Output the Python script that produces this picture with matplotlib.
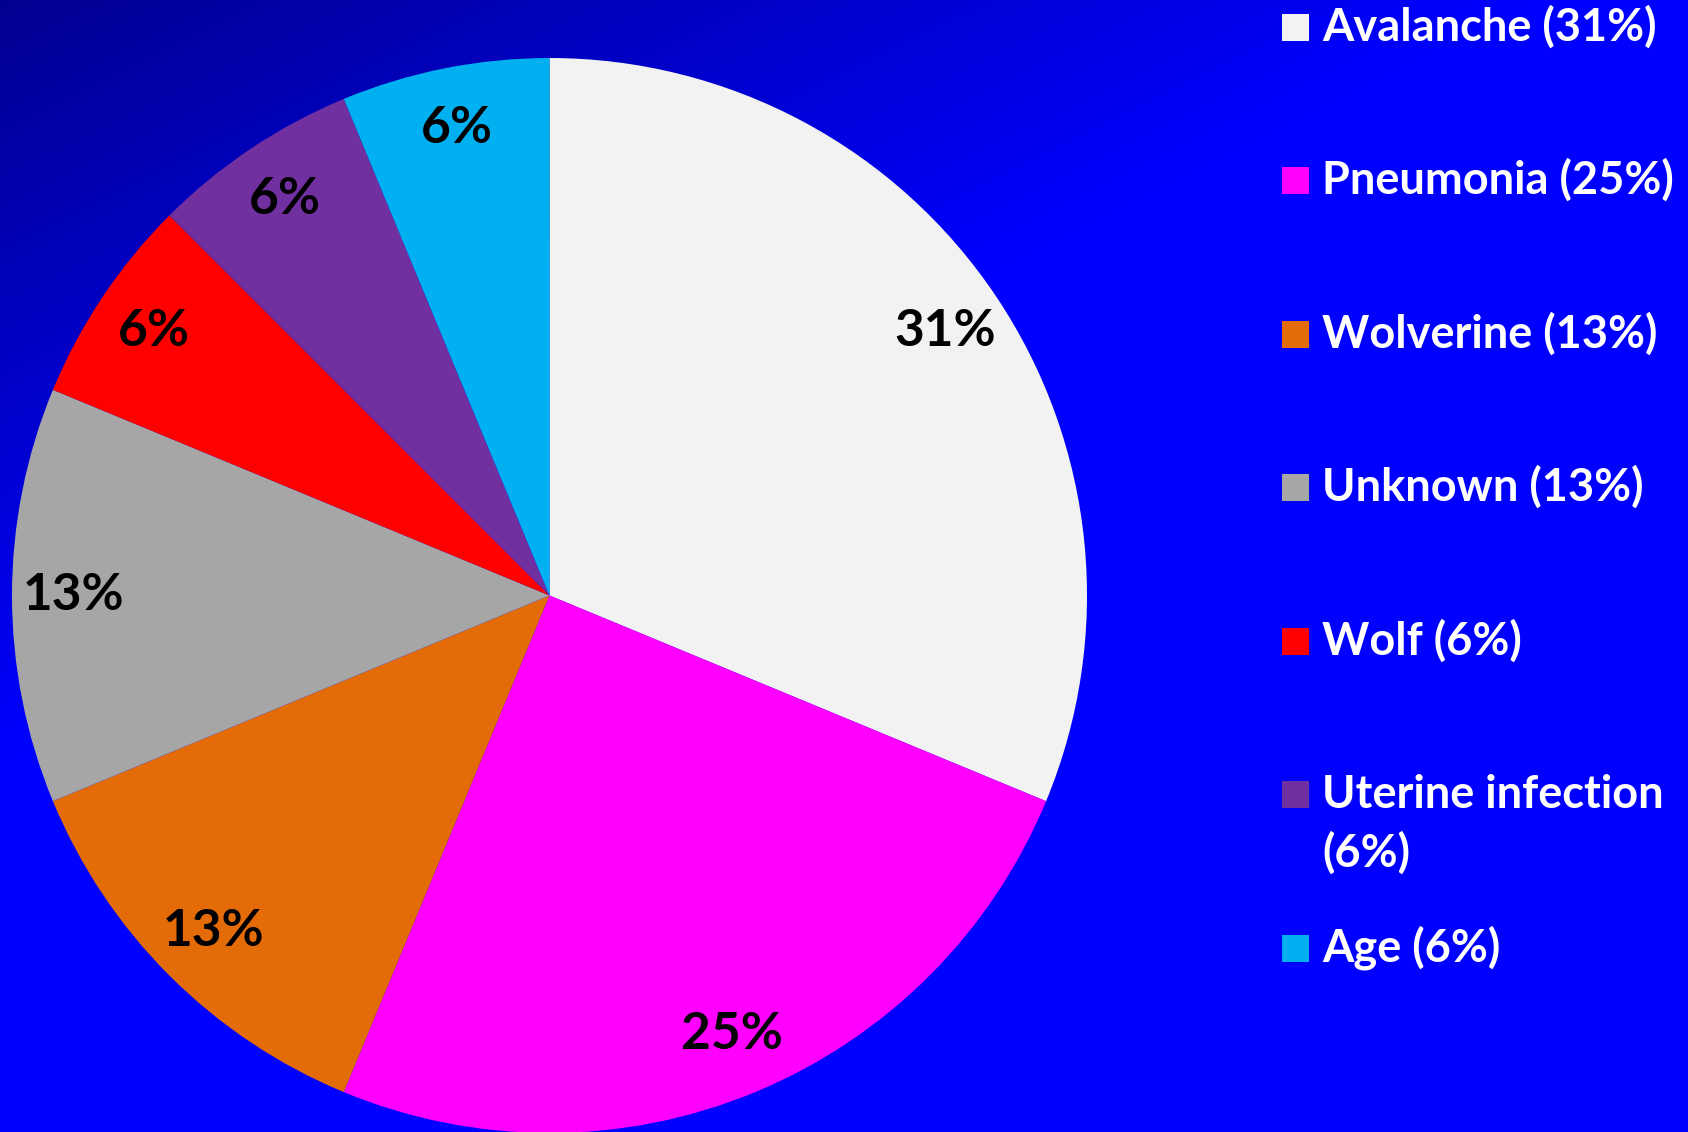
import numpy as np
import matplotlib
matplotlib.use("Agg")
import matplotlib.pyplot as plt
from matplotlib.patches import Rectangle

W, H = 1688, 1132
DPI = 100

# data: 16 deaths by cause
causes = ["Avalanche", "Pneumonia", "Wolverine", "Unknown", "Wolf",
          "Uterine infection", "Age"]
counts = [5, 4, 2, 2, 1, 1, 1]
colors = ["#F2F2F2", "#FF00FF", "#E36C09", "#A6A6A6", "#FF0000",
          "#7030A0", "#00B0F0"]
legend_labels = ["Avalanche (31%)", "Pneumonia (25%)", "Wolverine (13%)",
                 "Unknown (13%)", "Wolf (6%)", "Uterine infection\n(6%)",
                 "Age (6%)"]

plt.rcParams['font.family'] = ['Lato', 'DejaVu Sans']

fig = plt.figure(figsize=(W / DPI, H / DPI), dpi=DPI)

# background: blue gradient, darker towards the top-left corner
bg = fig.add_axes([0, 0, 1, 1])
yy, xx = np.mgrid[0:H, 0:W]
blue = np.clip(144 + 0.072 * xx + 0.145 * yy, 0, 255) / 255.0
img = np.zeros((H, W, 3))
img[..., 2] = blue
bg.imshow(img, extent=(0, W, H, 0), aspect='auto', interpolation='bilinear')
bg.set_axis_off()

# pie axes, placed in pixels
cx, cy, r = 549.5, 595.5, 537.5
ax = fig.add_axes([(cx - r) / W, 1 - (cy + r) / H, 2 * r / W, 2 * r / H])
ax.patch.set_alpha(0)


def pct_fmt(p):
    return f"{int(p + 0.5)}%"


wedges, _, autotexts = ax.pie(counts, colors=colors, startangle=90,
                              counterclock=False, autopct=pct_fmt,
                              pctdistance=0.885, radius=1,
                              wedgeprops={'linewidth': 0},
                              textprops={'fontsize': 37, 'fontweight': 'bold',
                                         'color': 'black'})
ax.set_xlim(-1, 1)
ax.set_ylim(-1, 1)
ax.set_aspect('equal')
ax.set_axis_off()

# legend drawn by hand so that the two-line entry keeps the row spacing
box = 27
x_box = 1282
x_txt = 1322
y0, step = 27, 153.5
line_gap = 59
for i, (lab, col) in enumerate(zip(legend_labels, colors)):
    yc = y0 + i * step
    fig.patches.append(Rectangle(((x_box) / W, 1 - (yc + box / 2) / H),
                                 box / W, box / H, facecolor=col,
                                 edgecolor='none', transform=fig.transFigure))
    for j, line in enumerate(lab.split("\n")):
        fig.text(x_txt / W, 1 - (yc + box / 2 + j * line_gap) / H, line,
                 color='white', fontsize=32.5, fontweight='bold',
                 ha='left', va='baseline')

fig.savefig("out.png", dpi=DPI)
